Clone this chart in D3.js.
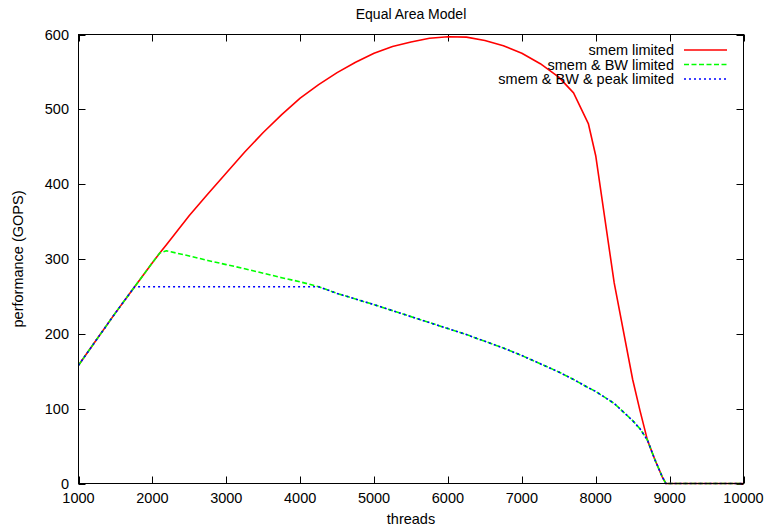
<!DOCTYPE html>
<html>
<head>
<meta charset="utf-8">
<script src="https://d3js.org/d3.v7.min.js"></script>
<style>
  body { margin: 0; background: #fff; }
  text { font-family: "Liberation Sans", Arial, sans-serif; fill: #000; }
</style>
</head>
<body>
<svg id="chart" width="768" height="529"></svg>
<script>
// sampled thread counts (x values shared by all three series)
const threads = [1000,1250,1500,1760,2000,2100,2190,2500,2750,3000,3250,3500,3750,4000,4250,4500,4750,5000,5250,5500,5750,6000,6250,6500,6750,7000,7250,7500,7700,7900,8000,8250,8500,8600,8700,8800,8900,8950,9000,10000];
const smemLimited = [158,193,228,263,295,308,319,358,387,415,443,469,493,515,533,549,563,575,584,590,595,597,596.5,592,585,575,561,543,522,481,438,268,139,97,58,32,9,0,0,0];
const smemBwLimited = [158,193,228,263,295,308,311,304,298,292.5,287,281,275,269.5,263,254,246.5,239,231,223,215,207,199,190,181,171,160,149,139,128,123,107,84,73,58,32,9,0,0,0];
const smemBwPeakLimited = [158,193,228,263,263,263,263,263,263,263,263,263,263,263,263,254,246.5,239,231,223,215,207,199,190,181,171,160,149,139,128,123,107,84,73,58,32,9,0,0,0];
const xTicks = [1000,2000,3000,4000,5000,6000,7000,8000,9000,10000];
const yTicks = [0,100,200,300,400,500,600];
const seriesNames = ["smem limited", "smem & BW limited", "smem & BW & peak limited"];

const svg = d3.select("#chart");
const plotLeft = 78.5, plotRight = 743.5, plotTop = 34.5, plotBottom = 483.5;

const x = d3.scaleLinear().domain([1000, 10000]).range([plotLeft, plotRight]);
const y = d3.scaleLinear().domain([0, 600]).range([plotBottom, plotTop]);

const series = [
  {name: seriesNames[0], values: smemLimited, color: "#ff0000", dash: null},
  {name: seriesNames[1], values: smemBwLimited, color: "#00ff00", dash: "5,2.5"},
  {name: seriesNames[2], values: smemBwPeakLimited, color: "#0000ff", dash: "2,3"}
];

// title
svg.append("text")
  .attr("x", (plotLeft + plotRight) / 2).attr("y", 19)
  .attr("text-anchor", "middle")
  .style("font-size", "14px")
  .text("Equal Area Model");

// ticks, inside and mirrored on all four sides
const tickLen = 7;
const ticks = svg.append("g").attr("stroke", "#000").attr("stroke-width", 1);
xTicks.forEach(function(t) {
  const px = Math.round(x(t)) + 0.5;
  ticks.append("line").attr("x1", px).attr("x2", px).attr("y1", plotBottom).attr("y2", plotBottom - tickLen);
  ticks.append("line").attr("x1", px).attr("x2", px).attr("y1", plotTop).attr("y2", plotTop + tickLen);
});
yTicks.forEach(function(t) {
  const py = Math.round(y(t)) + 0.5;
  ticks.append("line").attr("x1", plotLeft).attr("x2", plotLeft + tickLen).attr("y1", py).attr("y2", py);
  ticks.append("line").attr("x1", plotRight).attr("x2", plotRight - tickLen).attr("y1", py).attr("y2", py);
});

// tick labels
svg.append("g").selectAll("text")
  .data(xTicks).enter().append("text")
  .attr("x", d => x(d)).attr("y", 503)
  .attr("text-anchor", "middle")
  .style("font-size", "14.5px")
  .text(d => d);

svg.append("g").selectAll("text")
  .data(yTicks).enter().append("text")
  .attr("x", 69).attr("y", d => y(d) + 5)
  .attr("text-anchor", "end")
  .style("font-size", "14.5px")
  .text(d => d);

// axis titles
svg.append("text")
  .attr("x", (plotLeft + plotRight) / 2).attr("y", 524)
  .attr("text-anchor", "middle")
  .style("font-size", "14.5px")
  .text("threads");

svg.append("text")
  .attr("transform", "translate(23," + ((plotTop + plotBottom) / 2) + ") rotate(-90)")
  .attr("text-anchor", "middle")
  .style("font-size", "14.5px")
  .text("performance (GOPS)");

// curves
const line = d3.line()
  .x((d, i) => x(threads[i]))
  .y(d => y(d));

series.forEach(function(s) {
  svg.append("path")
    .attr("d", line(s.values))
    .attr("fill", "none")
    .attr("stroke", s.color)
    .attr("stroke-width", 1.6)
    .attr("stroke-linejoin", "round")
    .attr("stroke-dasharray", s.dash);
});

// frame
svg.append("rect")
  .attr("x", plotLeft).attr("y", plotTop)
  .attr("width", plotRight - plotLeft).attr("height", plotBottom - plotTop)
  .attr("fill", "none").attr("stroke", "#000").attr("stroke-width", 1);

// legend
const legend = svg.append("g");
series.forEach(function(s, i) {
  const ly = 50 + i * 14.5;
  legend.append("text")
    .attr("x", 674).attr("y", ly + 5)
    .attr("text-anchor", "end")
    .style("font-size", "14.5px")
    .text(s.name);
  legend.append("line")
    .attr("x1", 684).attr("x2", 727)
    .attr("y1", ly).attr("y2", ly)
    .attr("stroke", s.color)
    .attr("stroke-width", 1.6)
    .attr("stroke-dasharray", s.dash);
});
</script>
</body>
</html>
